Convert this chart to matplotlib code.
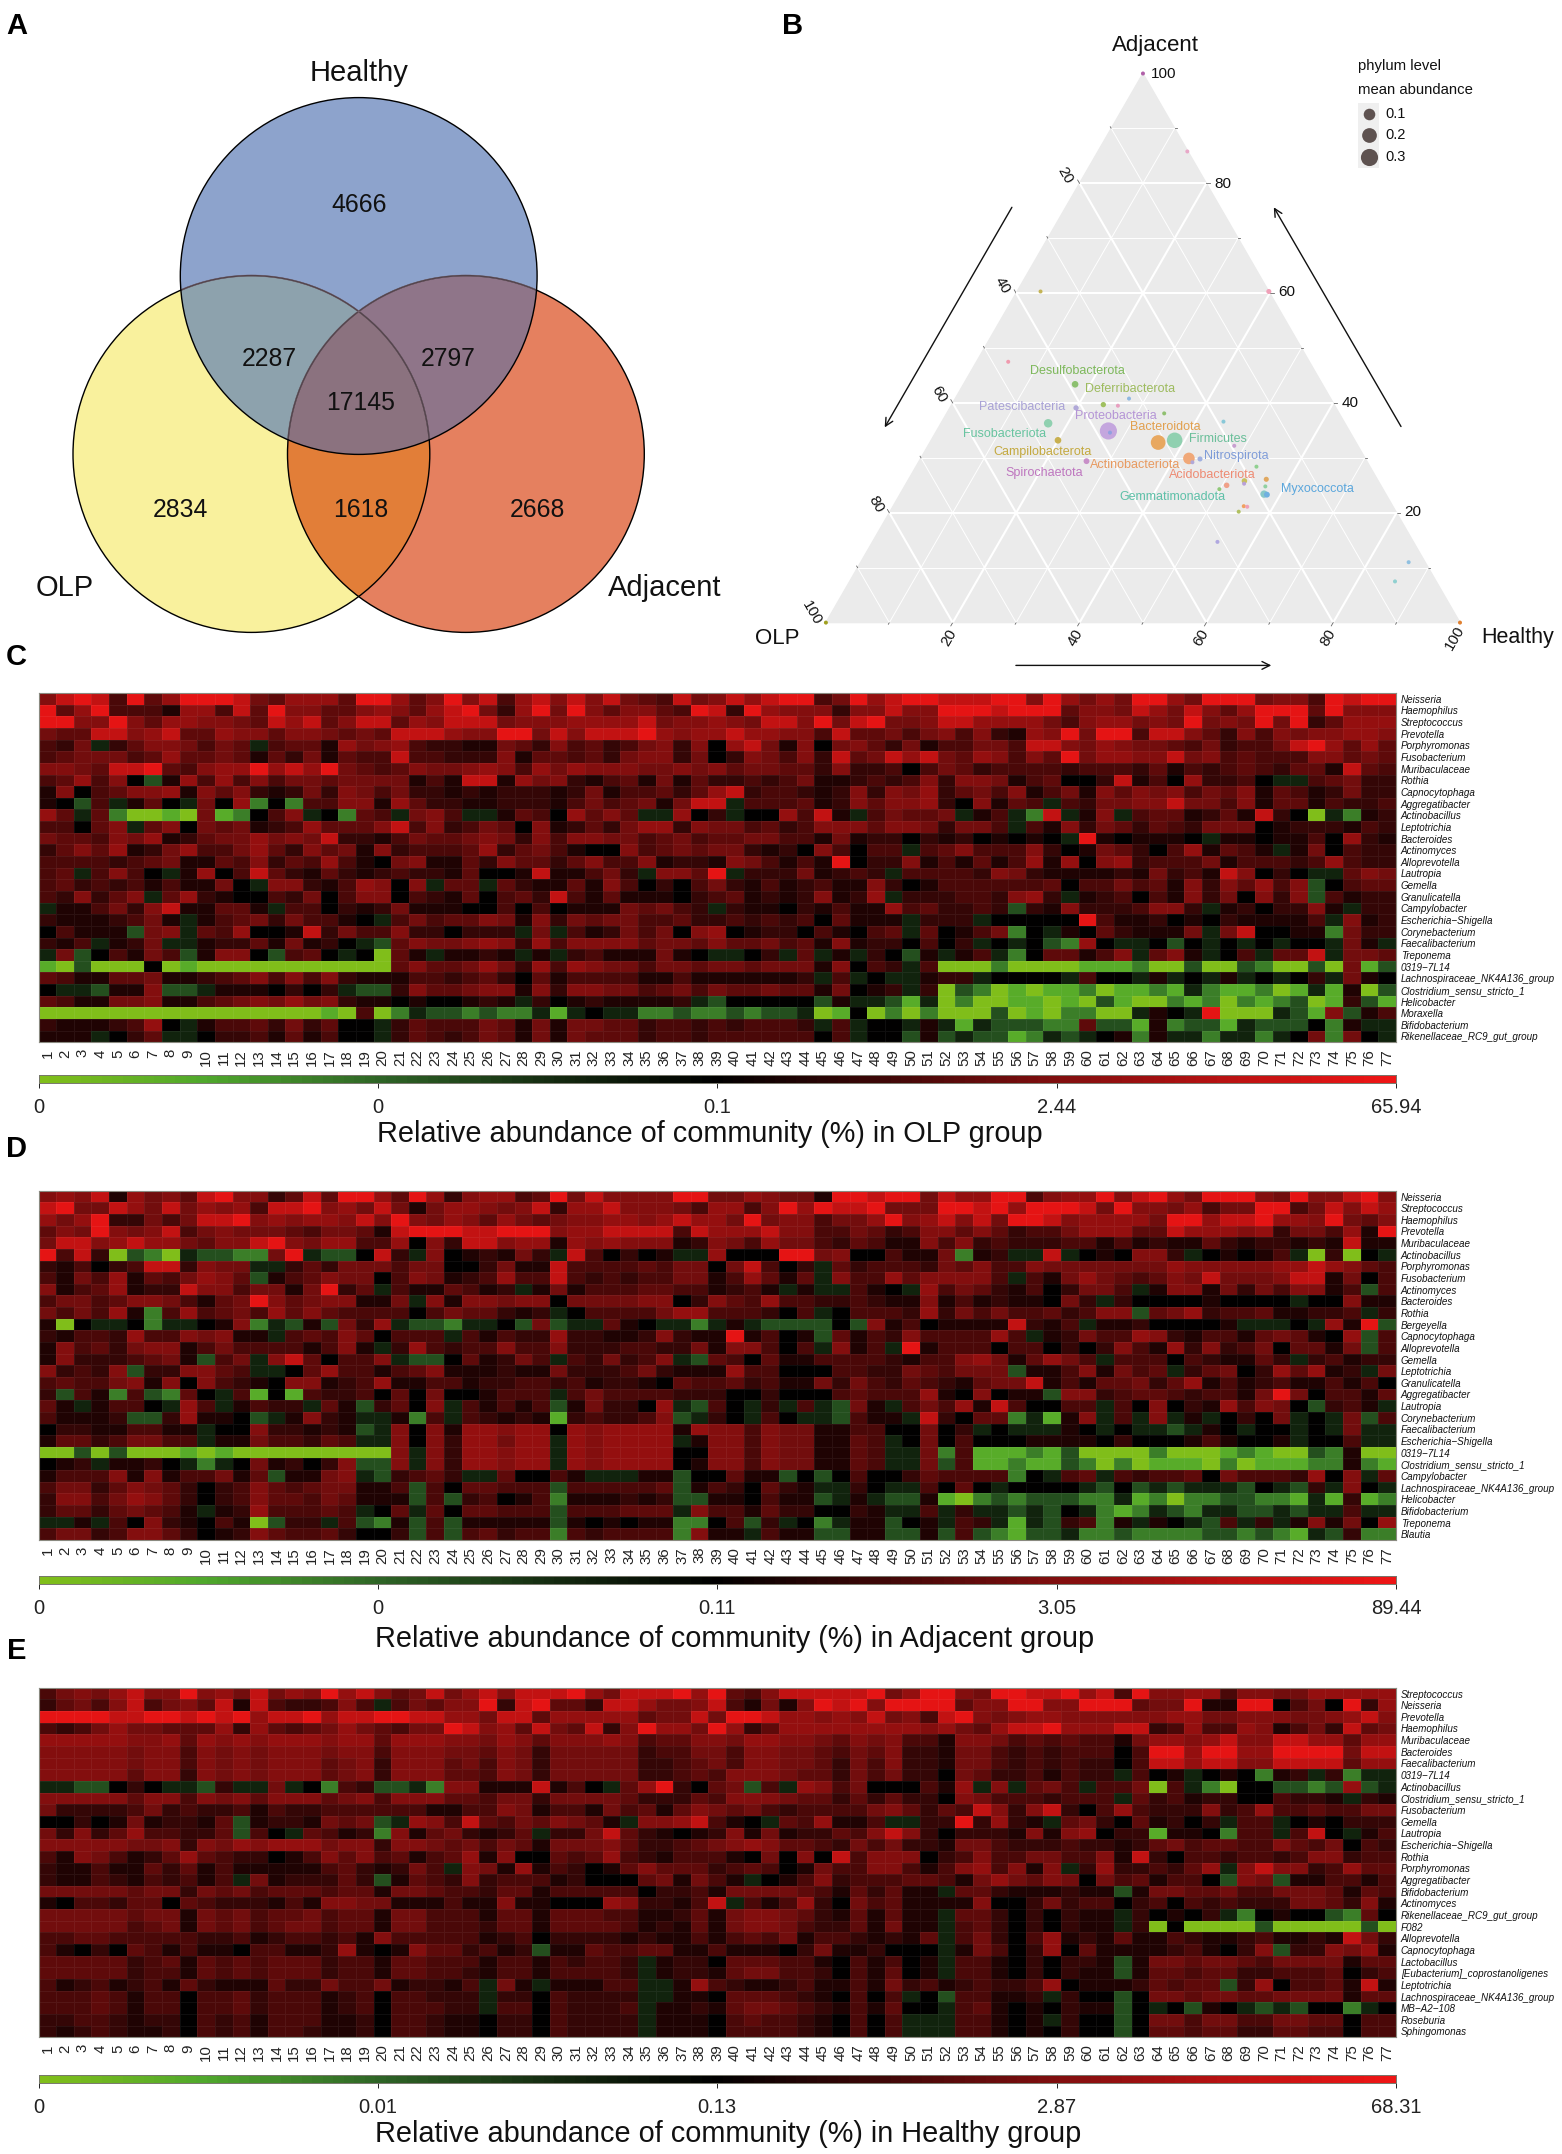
"""Venn, ternary plot and three genus heatmaps for the OLP / Adjacent / Healthy groups."""

import numpy as np
import matplotlib
matplotlib.use('Agg')
import matplotlib.pyplot as plt
from matplotlib.colors import LinearSegmentedColormap
from matplotlib.patches import Circle, Polygon

plt.rcParams['font.family'] = ['Liberation Sans', 'DejaVu Sans']

W, H = 1562, 2154

# ---------- panel A ----------
venn_sets = ['Healthy', 'OLP', 'Adjacent']
venn_counts = [4666, 2287, 2797, 17145, 2834, 1618, 2668]

# ---------- panel B: (OLP, Adjacent, Healthy) percent, mean abundance ----------
tern_olp = [0, 0.1, 36, 0, 47.5, 39, 36.4, 34.2, 31.8, 41, 27.6, 19, 46.8, 38, 37.9, 46.8, 31.2, 28.4, 19.5, 44.2,
            27.8, 27.6, 26.1, 17.9, 17.5, 21.1, 21.4, 18.3, 24.3, 25.8, 19.2, 18.8, 23.5, 23, 24.8, 30.9, 2.6, 6.5, 100, 0]
tern_adj = [100, 85.8, 60.3, 60.3, 47.5, 43.4, 39.7, 39.5, 40.8, 39.1, 38.1, 36.6, 36.3, 34.9, 34.6, 33.2, 32.8, 33.2, 32.2, 29.4,
            29.9, 29.2, 29.8, 28.4, 26.1, 25.8, 25.3, 24.8, 25, 24.3, 23.4, 23.3, 21.2, 21.1, 20.2, 14.7, 11, 7.5, 0, 0]
tern_abund = [0, 0, 0, 0.002, 0, 0.012, 0.003, 0, 0, 0.003, 0, 0, 0.035, 0.3, 0, 0.012, 0.2, 0.23, 0, 0.006,
               0.1, 0, 0.002, 0, 0.002, 0.004, 0, 0, 0.004, 0, 0.02, 0.006, 0, 0, 0, 0, 0, 0, 0, 0]
tern_colors = ['#B060A8', '#E8A8C8', '#C4B455', '#F0A0B8', '#F09AAE', '#8CC070', '#A0C060', '#E8A0C0', '#90B8E0', '#B0A8D8',
               '#90C070', '#88C8D8', '#90D0B0', '#C4A6DE', '#90A0E0', '#C8B050', '#E8A860', '#90D0B0', '#C8A0D0', '#C890C8',
               '#F0A878', '#B0A8D8', '#A0B0E0', '#90D090', '#E0A860', '#C8C060', '#B8A0D8', '#90D0A0', '#F0A088', '#90C878',
               '#88C8C8', '#70B0E0', '#F0A060', '#F0A0B8', '#B0C060', '#B0A8E0', '#90C0E0', '#90D0D0', '#A0A020', '#E08030']
phyla = ['Desulfobacterota', 'Deferribacterota', 'Patescibacteria', 'Proteobacteria', 'Bacteroidota', 'Firmicutes',
         'Fusobacteriota', 'Nitrospirota', 'Campilobacterota', 'Actinobacteriota', 'Acidobacteriota', 'Spirochaetota',
         'Myxococcota', 'Gemmatimonadota']
phyla_colors = ['#7DB85B', '#9DBB5E', '#A9A2D6', '#B595D6', '#E2A04E', '#6BBF9A', '#68C4A0', '#7F9CD8',
                '#C4A93F', '#E89A60', '#EE8B73', '#BE76BF', '#5AA6DC', '#5EC0A8']
phyla_x = [1077.8, 1130, 1022.4, 1116.2, 1165, 1218.4, 1004.4, 1236.4, 1042.8, 1135.6, 1212.4, 1044.3, 1317.7, 1172]
phyla_y = [371.4, 388.5, 407.3, 415.8, 427, 438.5, 434.2, 456.4, 451.7, 464.5, 474.8, 473, 489.3, 497]
legend_abund = [0.1, 0.2, 0.3]

# ---------- heatmaps: one letter per cell, a..e green to dark green, 0 black, 1..9 dark red to red ----------
LEVELS = dict(a=0.0, b=0.1, c=0.2, d=0.3, e=0.4)
LEVELS.update(zip('0123456789', [0.5, 0.56, 0.605, 0.645, 0.685, 0.725, 0.76, 0.80, 0.90, 0.98]))

genus_c = ['Neisseria', 'Haemophilus', 'Streptococcus', 'Prevotella', 'Porphyromonas', 'Fusobacterium', 'Muribaculaceae',
           'Rothia', 'Capnocytophaga', 'Aggregatibacter', 'Actinobacillus', 'Leptotrichia', 'Bacteroides', 'Actinomyces',
           'Alloprevotella', 'Lautropia', 'Gemella', 'Granulicatella', 'Campylobacter', 'Escherichia\u2212Shigella',
           'Corynebacterium', 'Faecalibacterium', 'Treponema', '0319\u22127L14', 'Lachnospiraceae_NK4A136_group',
           'Clostridium_sensu_stricto_1', 'Helicobacter', 'Moraxella', 'Bifidobacterium', 'Rikenellaceae_RC9_gut_group']
cells_c = [
    '6898394799 9854777499 7469683786 8685438568 7899359789 9888996975 7599759995 6639899',
    '9479333177 3849664467 6478952795 9646643982 9766626686 6999899946 6587586479 9949666',
    '9966964776 6548784688 4768885666 7777856676 5886958955 6887777536 7756595659 5924777',
    '5448867844 7664665454 8887669958 6888976778 7766384453 5636217695 9938864263 6566776',
    '325e246653 54e3441756 7322115426 3423562607 8516056425 1335538865 7655435233 5897474',
    '3455534744 5414251433 8332226144 3425662502 6536284587 8547636495 7766856343 3366454',
    '6654889436 7797879543 4655676375 7666556564 5544262230 3542333323 3324132343 2441843',
    '347360d173 7363554555 5131881756 2134151422 3235112323 6266513400 2813072230 ee34522',
    '1603466716 4621252653 5221212221 2513342478 2332126265 7245361351 6465635461 4312522',
    '10d3e140e5 07c0c33661 7422112221 353451588e 3334126466 7206143e32 5566855361 4413223',
    '74e4caaba5 bc036e0c43 e563ee1430 7464ee702e 007381e354 45e13ec8e1 6e34412418 20aec12',
    '33046e4605 4512374446 8362354061 2425772655 3423666466 52553e3162 5424325550 1222132',
    '5443657124 5575658221 3544565263 6655345344 5533151220 21201010e9 101110e110 1130721',
    '2464712573 3574264516 2333472453 1006345455 212063033e 3463336201 5420371431 e150322',
    '3333234511 4362437310 5611426442 4633612216 5313190226 1314137170 6723335133 3237322',
    '34e3630e17 0384214212 3221400181 1352e6649e 22251232e3 3332652111 1215231860 20ee465',
    '3423231311 50e6621376 06e44e4211 4163020352 1312311620 1333333403 3534162647 36d0344',
    '326246e472 1003250366 0321403428 3141110234 12126127e2 22332672e1 2303162506 26d3122',
    'e113526811 441e330212 5111003030 11154532e2 1102131173 42232d2162 223662e120 2261e22',
    '21112351e1 345253310e 3534465162 5455334223 232304111e 222e000009 3112010211 113e612',
    '03111d56e4 3700182533 6220222e5e 3125350670 122031034e 40135c0e10 421115e580 011c522',
    '213e125ee1 22415120ed 4655676273 6666455464 4534161220 302e0e0dc7 0ee0d0e0e0 e00e51e',
    'e5d03153d1 660d340e0a 41e1121e1e 23111510ee 02e4e1e20d 1e13ec0441 36e461e03e 448e554',
    'badaaa0aba aaaaaaaaaa 4644575273 7655355455 455516032e 3aaacaaaab bbcaadaadc aada5bd',
    '4311445112 3463636211 1332342041 3333113111 1112e3e0ee 122e0000e3 00e1e0e1e0 e02e510',
    '0eed116dde 1110202edd 2644566162 6655345354 454415012e 2adcababbc abbcbecbbc abeb1ad',
    '4311556113 4565756211 0100121e20 1211112ed0 0000d1eedb eacaabbaba dbaacbcacb cdab2db',
    'aaaaaaaaaa aaaaaaba3a ceddcdcceb e0eeccdccd cddeab0aca caaadabacc aae10e9aaa edb6d13',
    '21112370e1 334252400e 2433354151 5544233232 3332e3e00e 1ebedddcc4 ddb1cddbed dd0c1ee',
    '111e024ee0 223141300e 2432354151 5444233233 333303e00d 1deddbcede 01c1eeceec e05c50e',
]

genus_d = ['Neisseria', 'Streptococcus', 'Haemophilus', 'Prevotella', 'Muribaculaceae', 'Actinobacillus', 'Porphyromonas',
           'Fusobacterium', 'Actinomyces', 'Bacteroides', 'Rothia', 'Bergeyella', 'Capnocytophaga', 'Alloprevotella',
           'Gemella', 'Leptotrichia', 'Granulicatella', 'Aggregatibacter', 'Lautropia', 'Corynebacterium',
           'Faecalibacterium', 'Escherichia\u2212Shigella', '0319\u22127L14', 'Clostridium_sensu_stricto_1', 'Campylobacter',
           'Lachnospiraceae_NK4A136_group', 'Helicobacter', 'Bifidobacterium', 'Treponema', 'Blautia']
cells_d = [
    '6768175648 9662484997 4972677349 5866669955 7655199899 5877993677 9689759996 5966896',
    '8955875857 6738896758 5157765682 7786665377 3697988955 5998979998 5966573559 9358687',
    '7579225358 8967677686 9657647545 6677678775 9566355796 7868599867 7775997889 7769546',
    '4659656835 6555435541 8999889996 7788883877 7866335423 6646423357 7744877767 2553719',
    '5886787754 6689657733 7062886771 7676661265 3755324311 6362322233 1312114212 2121811',
    '9382adcaed dcc59edd08 2e6012152e 830201ee70 0099560031 15c12ee8e0 10662e0101 3ea2a0e',
    '2130238826 55ee242555 3550025118 3333435505 8302e42333 2546336555 5555766666 7787643',
    '3153714357 64d1346550 3651237338 3232335513 7414e63374 66663e3157 5434658555 6881503',
    '6134712286 635515924e 3114312e15 1333443312 31e1ee310e 7354213025 53e1661525 36613d3',
    '3553466531 4596456611 5e61665660 5555660264 3733223211 6131211052 e200001000 0e00611',
    '535371c373 4537464333 303544212e 0333357733 3203e03332 7253533423 66d4572334 11223e2',
    '1a0ee0cee0 16ced1d527 eddcee0d5d ee410eece1 edddd0d613 011118213e 11200001ee e0e719d',
    '2133273365 611e343640 333e313227 2211262119 1301d41326 333373e125 3376213314 54107d3',
    '1634256613 533331361e 2732336336 2223322516 6303e613e9 1333033020 2631726235 04415d3',
    '162223451d 35e6840336 edd041253e 325236ed43 0411333321 3367514753 e333032114 2e23122',
    '62326d2266 43ee047331 3461112115 2223521117 3300033225 43555d1136 1534e24502 74712e5',
    '3433561606 3210661237 1133122332 3122104334 2311525324 3214558131 4452471312 3113130',
    '2d31c3dc40 e3b0b32230 405001333e 3533332220 0200034333 7106011d66 2344323315 9503314',
    '41e1330e73 e1322e41d2 406e31313d 152207ed30 e2e3ed51e3 5371830033 e306021736 50d231e',
    '31112dd271 10de1621ee 1c3e32121b 232236de20 e30eed311e 82044ceb16 e3e6e1e020 5e0e5d3',
    '022113311e 00622121de 6061776770 7677771766 3655113300 502e0eee10 e0eede10e0 0e0e5ee',
    '144235533e 11533243ee 606277577e 767777e166 36551143e0 5030001111 0200013100 1e003ee',
    'aadadaaaba baaaaaaaaa 6e6277677e 7677770066 36551143ee 5c3bbbcbda aaacaaabcb aadc1aa',
    '012e1120ec e0512026dd 6e6277677e 7677770166 36551143ee 5d3bbcbbdc acabbbacab bbcc1cb',
    '1333616133 514d1156ed 2342ee4003 1eee11d004 11d0d03002 43333c0e34 e323340533 32706e4',
    '3552465420 2364345511 3d3044333d 333334d132 0421ee20ee 3040e0000e d0dedeeed0 ed2e60e',
    '2663576420 2364435411 1d3d23013c 111212dd11 0311de1edd 1bacdcdddc cebcaccddc cbeb2bc',
    '244245431e 12733343e0 4e4044333d 333444e633 14220021ee 3e2eeded0e cbcedceedd edee3ee',
    'ee1e306210 31ad22e3dc 1d3d11111d 101011cc03 d2e0ce11d0 1e32ebed23 c1e10ed3e2 e161507',
    '3552366420 1264334200 2d3d34233c 323333c611 e311dd11dd 1d3dcbddec cdccccddcd cbed2cc',
]

genus_e = ['Streptococcus', 'Neisseria', 'Prevotella', 'Haemophilus', 'Muribaculaceae', 'Bacteroides', 'Faecalibacterium',
           '0319\u22127L14', 'Actinobacillus', 'Clostridium_sensu_stricto_1', 'Fusobacterium', 'Gemella', 'Lautropia',
           'Escherichia\u2212Shigella', 'Rothia', 'Porphyromonas', 'Aggregatibacter', 'Bifidobacterium', 'Actinomyces',
           'Rikenellaceae_RC9_gut_group', 'F082', 'Alloprevotella', 'Capnocytophaga', 'Lactobacillus',
           '[Eubacterium]_coprostanoligenes', 'Leptotrichia', 'Lachnospiraceae_NK4A136_group', 'MB\u2212A2\u2212108',
           'Roseburia', 'Sphingomonas']
cells_e = [
    '3565786696 7585769786 4585786888 9758889794 3688888957 9965998897 8396677366 5577777',
    '2453683564 818322363e 3546692894 4288755683 1516989699 9946699669 9945591199 0350927',
    '9999889989 8978897889 9887758847 7777455859 9877676856 3896567766 6666775566 6556786',
    '3235755444 7274345754 3559867485 4826977597 2477777777 6754788977 7882373376 1352845',
    '7777766747 6767776774 7776657646 6676344665 7766546563 3166534343 3157767866 8877477',
    '6666656636 5656665663 6665546525 5555233553 6655435462 2155323233 3039979977 9999588',
    '6666656636 5656664562 6664536525 5555223453 6655425362 2155323232 2038878866 8888477',
    '6666646626 5656664562 6664436525 5555223436 6654425352 2054223132 2e301e010c 12e2cee',
    'eedd020eed 2ee5e0c32d dec6611181 30e4792045 d3e7635000 317e6e453e 335a3eca00 ddcd7de',
    '6666646636 5646664563 6664435525 5554222436 6654424242 2065333233 3e42312200 3221e21',
    '5222235232 2313223333 3311336513 3153414654 5323333564 2438626820 3732226237 3343355',
    '0020151221 4d1221545d e763843546 541e667831 0e437113ee 2292721e45 2041202e33 e010222',
    '5262473322 4d30e4312c 61452124e2 2584210126 1512243686 2022216167 022b110c33 e380e13',
    '6666655626 5767775662 6654535415 5564223456 7644325352 2155322232 2124534433 6435032',
    '3165312474 3220136463 4134716004 3473213331 0506083666 0236335533 6182033233 2366233',
    '2113114241 3111113421 253e651713 2014644423 4301533663 13673616e2 7223247e68 6623744',
    '2113213231 3e5122242d 1432623331 2000451531 e013623334 4315754650 5341330d65 d113313',
    '5555545525 4534443441 5543324413 3333022315 5554314241 1e44211121 1d15544533 5554143',
    '1033244043 2221316655 1113116110 007622138e 3137205341 1116002523 3023032322 2554261',
    '5555545515 4534453441 5533314414 4433112415 6654214141 1e44202021 1e20102ec0 100dc40',
    '5555534515 4534553441 5533324414 4443121415 6653224151 1e34202021 1e2a0aaaad aaaaada',
    '3344333332 2312332316 3333312302 2221211313 4351332121 4e35203712 1411321123 1121852',
    '3102043131 1033112710 16442312d1 1433441131 1102511200 0e15302704 1111231026 d226571',
    '4444423414 3434442331 4433313313 2332e12204 4433103130 1e33102022 1d15545543 5555144',
    '4444423314 3434442331 4433213313 3332e12214 5533203140 1e33102021 1d14434422 3334023',
    '3123123142 1114225335 12213e51e1 1133ee1732 1123113152 3123223701 1124344d27 0334181',
    '3334313303 3423331230 33222e2203 2222ee1104 443210303e 0d33112e20 0d05545544 5555144',
    '3334313303 3423331230 33322e3303 2223e11214 5543213140 0e34101021 1d0e0d10ed ed00ce0',
    '2233212203 2313331120 3321102203 2222e11103 433210303e ee33101e20 0d05535533 5544033',
    '2123211203 2313321120 3321102203 2222e11103 333210303e ee33101020 0d04434422 4433033',
]

scale_c = ['0', '0', '0.1', '2.44', '65.94']
scale_d = ['0', '0', '0.11', '3.05', '89.44']
scale_e = ['0', '0.01', '0.13', '2.87', '68.31']
samples = [str(i) for i in range(1, 78)]

green_black_red = LinearSegmentedColormap.from_list('gbr', [
    (0.0, '#80BE1A'), (0.12, '#4FA82C'), (0.25, '#2E6426'), (0.38, '#142A10'),
    (0.5, '#000000'), (0.75, '#7E0E0E'), (1.0, '#EE1515')])


def decode(rows):
    """Pasa las filas de letras a posiciones 0-1 de la escala de color."""
    out = []
    for n, row in enumerate(rows):
        row = row.replace(' ', '')
        if len(row) != 77:
            raise ValueError(f'fila {n}: {len(row)} celdas')
        out.append([LEVELS[c] for c in row])
    return np.array(out)


def axes_px(fig, left, top, right, bottom):
    return fig.add_axes([left / W, 1 - bottom / H, (right - left) / W, (bottom - top) / H])


def point_diameter(abund):
    return 4 + 24 * np.sqrt(abund)


def to_xy(olp, adj):
    """Ternario a cartesiano, con OLP abajo a la izquierda y Adjacent arriba."""
    olp, adj = np.asarray(olp, float), np.asarray(adj, float)
    healthy = 100 - olp - adj
    return healthy + adj / 2, adj


def heatmap(fig, page, rows, genus, scale, group, top, bottom, bar_top, label_x, label_y):
    ax = axes_px(fig, 38.6, top, 1396, bottom)
    data = decode(rows)
    ax.pcolormesh(data, cmap=green_black_red, vmin=0, vmax=1, edgecolors=(1, 1, 1, 0.06), linewidth=0.4)
    ax.set_ylim(30, 0)
    ax.set_xticks(np.arange(77) + 0.5)
    ax.set_xticklabels(samples, rotation=90, fontsize=10.8, va='top', ha='center')
    ax.set_yticks(np.arange(30) + 0.5)
    ax.set_yticklabels(genus, style='italic', fontsize=7.1)
    ax.yaxis.tick_right()
    ax.tick_params(axis='x', length=0, pad=5, colors='#222222')
    ax.tick_params(axis='y', length=0, pad=3.5, colors='#111111')
    for sp in ax.spines.values():
        sp.set_color('#8a8a80')
        sp.set_linewidth(0.8)

    cb = axes_px(fig, 38.6, bar_top, 1396, bar_top + 8)
    cb.pcolormesh(np.linspace(0, 1, 129).reshape(1, -1), cmap=green_black_red, vmin=0, vmax=1)
    cb.set_xticks(np.linspace(0, 129, 5))
    cb.set_xticklabels(scale, fontsize=14.5)
    cb.set_yticks([])
    cb.tick_params(axis='x', length=3.5, width=0.7, pad=7, colors='#222222')
    for sp in cb.spines.values():
        sp.set_color('#77776c')
        sp.set_linewidth(0.7)

    page.text(label_x, label_y, f'Relative abundance of community (%) in {group} group', fontsize=20.8,
              ha='center', va='center', color='#111111')


fig = plt.figure(figsize=(W / 100, H / 100), dpi=100)

# capa de pagina en pixeles para textos y venn
page = fig.add_axes([0, 0, 1, 1], zorder=5)
page.set_xlim(0, W)
page.set_ylim(H, 0)
page.axis('off')
page.patch.set_alpha(0)

# --- A: venn ---
centers = {'Healthy': (358.7, 276), 'OLP': (251.4, 454), 'Adjacent': (465.9, 454)}
radius = 178.4
fills = {'Healthy': '#8DA3CC', 'OLP': '#F9F19D', 'Adjacent': '#E5805F'}
lens_fills = [('OLP', 'Adjacent', '#E27E38'), ('OLP', 'Healthy', '#8DA2AD'), ('Adjacent', 'Healthy', '#8F7589')]


def clip_circle(name):
    return Circle(centers[name], radius, transform=page.transData)


for name in ['OLP', 'Adjacent', 'Healthy']:
    page.add_patch(Circle(centers[name], radius, fc=fills[name], ec='none'))
for name, other, color in lens_fills:
    lens = page.add_patch(Circle(centers[name], radius, fc=color, ec='none'))
    lens.set_clip_path(clip_circle(other))

# zona comun a los tres: puntos de cada borde que caen dentro de los otros dos
angles = np.linspace(0, 2 * np.pi, 1440, endpoint=False)
edge = []
for name in venn_sets:
    px = centers[name][0] + radius * np.cos(angles)
    py = centers[name][1] + radius * np.sin(angles)
    keep = np.ones_like(px, bool)
    for other in venn_sets:
        if other != name:
            keep &= (px - centers[other][0]) ** 2 + (py - centers[other][1]) ** 2 <= radius ** 2
    edge.append(np.c_[px[keep], py[keep]])
edge = np.vstack(edge)
mid = edge.mean(axis=0)
edge = edge[np.argsort(np.arctan2(edge[:, 1] - mid[1], edge[:, 0] - mid[0]))]
page.add_patch(Polygon(edge, closed=True, fc='#8B727F', ec='none', zorder=1.5))

for name in ['OLP', 'Adjacent']:
    page.add_patch(Circle(centers[name], radius, fc='none', ec='black', lw=1.0, zorder=2))
    arc = page.add_patch(Circle(centers[name], radius, fc='none', ec='#8B727F', lw=1.4, alpha=0.6, zorder=2.1))
    arc.set_clip_path(clip_circle('Healthy'))
page.add_patch(Circle(centers['Healthy'], radius, fc='none', ec='black', lw=1.0, zorder=2.2))

venn_pos = [(359, 205.5), (269, 358.5), (448, 358.5), (360.7, 402.5), (180.4, 510), (360.7, 510), (537.5, 510)]
for (x, y), n in zip(venn_pos, venn_counts):
    page.text(x, y, str(n), fontsize=17.8, ha='center', va='center', zorder=3, color='#111111')
for name, (x, y) in zip(venn_sets, [(359, 73), (65, 588), (665, 588)]):
    page.text(x, y, name, fontsize=21, ha='center', va='center', zorder=3, color='#111111')

# --- B: ternario ---
tern = axes_px(fig, 825.9, 73.5, 1460, 622.6)
tern.set_xlim(0, 100)
tern.set_ylim(0, 100)
tern.axis('off')
tern.fill([0, 100, 50], [0, 0, 100], color='#EBEBEB', zorder=0, clip_on=False)
for v in range(10, 100, 10):
    lw = 1.5 if v % 20 == 0 else 0.7
    seg = [([100 - v, 0], [0, 100 - v]), ([0, 100 - v], [v, v]), ([v, v], [0, 100 - v])]
    for olp_pair, adj_pair in seg:
        xs, ys = to_xy(olp_pair, adj_pair)
        tern.plot(xs, ys, color='white', lw=lw, zorder=1, solid_capstyle='butt')
    # marcas cortas fuera del triangulo
    tick = 0.6 if v % 20 == 0 else 0.3
    for olp_pair, adj_pair in [([0, -tick], [v, v]), ([v, v], [100 - v, 100 - v + tick]), ([100 - v, 100 - v + tick], [0, -tick])]:
        xs, ys = to_xy(olp_pair, adj_pair)
        tern.plot(xs, ys, color='#666666', lw=0.6, zorder=1, clip_on=False)

tx, ty = to_xy(tern_olp, tern_adj)
tern.scatter(tx, ty, s=(point_diameter(np.array(tern_abund)) * 0.72) ** 2, c=tern_colors, linewidths=0,
             zorder=3, clip_on=False)

for name, c, x, y in zip(phyla, phyla_colors, phyla_x, phyla_y):
    page.text(x, y, name, color=c, fontsize=9.0, ha='center', va='center')

for lab, x, y in zip(['100', '80', '60', '40', '20'], [1164, 1223, 1286.7, 1350, 1413], [73.6, 183.5, 292.5, 403, 512.5]):
    page.text(x, y, lab, fontsize=11, ha='center', va='center', color='#111111')
for lab, x, y in zip(['20', '40', '60', '80', '100'], [1065.3, 1002.4, 939, 875.8, 811.4], [175.2, 285.5, 394, 504.3, 613.2]):
    page.text(x, y, lab, fontsize=11, ha='center', va='center', rotation=-60, color='#111111')
for lab, x in zip(['20', '40', '60', '80', '100'], [948.6, 1075.8, 1201.4, 1328, 1454.3]):
    page.text(x, 637.6, lab, fontsize=11, ha='center', va='center', rotation=60, color='#111111')

page.text(1155.6, 46, 'Adjacent', fontsize=16, ha='center', va='center', color='#111111')
page.text(777.6, 638.5, 'OLP', fontsize=16, ha='center', va='center', color='#111111')
page.text(1518, 638, 'Healthy', fontsize=15.5, ha='center', va='center', color='#111111')

for start, end in [((1011.9, 207.3), (884.7, 427.4)), ((1401, 426.5), (1273.8, 207.3)), ((1015.9, 665.4), (1271.3, 665.4))]:
    page.annotate('', xy=end, xytext=start, arrowprops=dict(arrowstyle='->', color='#111111', lw=1.0, mutation_scale=14,
                                                            shrinkA=0, shrinkB=0))

page.text(1357.6, 65.8, 'phylum level', fontsize=10.7, ha='left', va='center', color='#111111')
page.text(1357.6, 89.7, 'mean abundance', fontsize=10.7, ha='left', va='center', color='#111111')
page.fill([1357.6, 1378.5, 1378.5, 1357.6], [102.6, 102.6, 167.5, 167.5], color='#EFEFEF', lw=0)
for ab, y in zip(legend_abund, [113.7, 135, 156.8]):
    page.scatter([1368.5], [y], s=(point_diameter(ab) * 0.72) ** 2, c='#5E5250', linewidths=0)
    page.text(1385.5, y, str(ab), fontsize=10.5, ha='left', va='center', color='#111111')

# --- C, D, E ---
heatmap(fig, page, cells_c, genus_c, scale_c, 'OLP', 693, 1042.3, 1075, 710, 1134)
heatmap(fig, page, cells_d, genus_d, scale_d, 'Adjacent', 1190.7, 1540, 1576, 735, 1639)
heatmap(fig, page, cells_e, genus_e, scale_e, 'Healthy', 1687.7, 2037.3, 2075, 728, 2134)

for lab, x, y in zip('ABCDE', [16.5, 793, 16.5, 16.5, 16.5], [26, 25.5, 657, 1149, 1651]):
    page.text(x, y, lab, fontsize=21, fontweight='bold', ha='center', va='center', color='black')

fig.savefig('out.png', dpi=100)
